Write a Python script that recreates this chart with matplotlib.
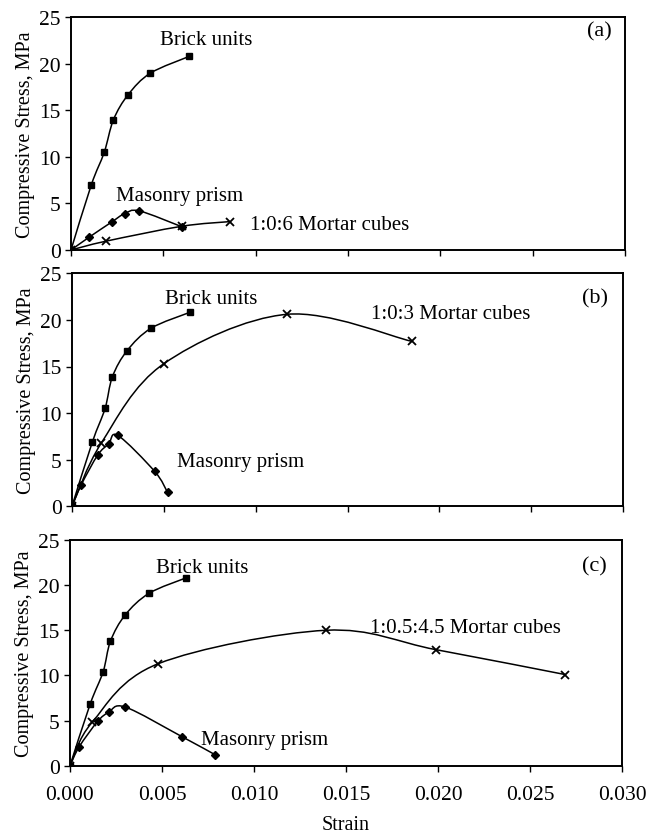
import numpy as np
import matplotlib
matplotlib.use("Agg")
import matplotlib.pyplot as plt
from matplotlib.path import Path
from matplotlib.patches import PathPatch
from matplotlib.ticker import FormatStrFormatter

plt.rcParams['font.family'] = ['Liberation Serif', 'DejaVu Serif']

# panel (a) - 1:0:6 mortar
brick_a_strain = [0, 0.0011, 0.0018, 0.0023, 0.0031, 0.0043, 0.0064]
brick_a_stress = [0, 7.0, 10.5, 14.0, 16.7, 19.0, 20.8]
prism_a_strain = [0, 0.0010, 0.0022, 0.0029, 0.0037, 0.0060]
prism_a_stress = [0, 1.4, 3.0, 3.9, 4.2, 2.5]
mortar_a_strain = [0, 0.0019, 0.0060, 0.0086]
mortar_a_stress = [0, 0.95, 2.55, 3.05]

# panel (b) - 1:0:3 mortar
brick_b_strain = [0, 0.0011, 0.0018, 0.0022, 0.0030, 0.0043, 0.0064]
brick_b_stress = [0, 6.85, 10.5, 13.9, 16.7, 19.1, 20.8]
prism_b_strain = [0, 0.0005, 0.0014, 0.0020, 0.0025, 0.0045, 0.0052]
prism_b_stress = [0, 2.3, 5.5, 6.7, 7.6, 3.75, 1.5]
mortar_b_strain = [0, 0.0016, 0.0050, 0.0117, 0.0185]
mortar_b_stress = [0, 6.8, 15.3, 20.6, 17.7]

# panel (c) - 1:0.5:4.5 mortar
brick_c_strain = [0, 0.0011, 0.0018, 0.0022, 0.0030, 0.0043, 0.0063]
brick_c_stress = [0, 6.85, 10.4, 13.8, 16.7, 19.1, 20.8]
prism_c_strain = [0, 0.0005, 0.0015, 0.0021, 0.0030, 0.0061, 0.0079]
prism_c_stress = [0, 2.1, 4.9, 5.9, 6.5, 3.2, 1.2]
mortar_c_strain = [0, 0.0012, 0.0048, 0.0139, 0.0199, 0.0269]
mortar_c_stress = [0, 4.8, 11.3, 15.0, 12.85, 10.1]

mortar_names = ['1:0:6 Mortar cubes', '1:0:3 Mortar cubes', '1:0.5:4.5 Mortar cubes']
panel_tags = ['(a)', '(b)', '(c)']


def smooth_path(xs, ys):
    # excel style smoothed line: cubic bezier pieces through every point
    pts = np.column_stack([xs, ys]).astype(float)
    n = len(pts)
    verts = [pts[0]]
    codes = [Path.MOVETO]
    for i in range(n - 1):
        p0 = pts[i - 1] if i > 0 else pts[i]
        p1 = pts[i]
        p2 = pts[i + 1]
        p3 = pts[i + 2] if i + 2 < n else pts[i + 1]
        verts += [p1 + (p2 - p0) / 6, p2 - (p3 - p1) / 6, p2]
        codes += [Path.CURVE4] * 3
    return Path(verts, codes)


def draw_series(ax, xs, ys, marker, ms):
    ax.add_patch(PathPatch(smooth_path(xs, ys), fill=False, lw=1.1, edgecolor='black'))
    if marker == 'x':
        ax.plot(xs, ys, ls='none', marker='x', ms=ms, mew=1.3, color='black')
    else:
        ax.plot(xs, ys, ls='none', marker=marker, ms=ms, color='black')


fig = plt.figure(figsize=(6.47, 8.37), dpi=100)
boxes = [
    [71 / 647, 1 - 251 / 837, 554 / 647, 232.7 / 837],
    [72 / 647, 1 - 507.3 / 837, 551 / 647, 233 / 837],
    [70 / 647, 1 - 766.7 / 837, 552 / 647, 225.7 / 837],
]
series = [
    (brick_a_strain, brick_a_stress, prism_a_strain, prism_a_stress, mortar_a_strain, mortar_a_stress),
    (brick_b_strain, brick_b_stress, prism_b_strain, prism_b_stress, mortar_b_strain, mortar_b_stress),
    (brick_c_strain, brick_c_stress, prism_c_strain, prism_c_stress, mortar_c_strain, mortar_c_stress),
]
# label spots (x, y, ha) for brick, prism, mortar, tag
spots = [
    [(0.0073, 22.6, 'center'), (0.0059, 5.9, 'center'), (0.0097, 2.7, 'left'), (0.0286, 23.5, 'center')],
    [(0.0076, 22.3, 'center'), (0.0092, 4.85, 'center'), (0.0206, 20.7, 'center'), (0.0285, 22.4, 'center')],
    [(0.0072, 21.9, 'center'), (0.0071, 2.9, 'left'), (0.0215, 15.3, 'center'), (0.0285, 22.1, 'center')],
]

for k in range(3):
    ax = fig.add_axes(boxes[k])
    bx, by, px, py, mx, my = series[k]
    draw_series(ax, bx, by, 's', 5)
    draw_series(ax, px, py, 'D', 4.5)
    draw_series(ax, mx, my, 'x', 6)

    ax.set_xlim(0, 0.030)
    ax.set_ylim(0, 25)
    ax.set_xticks(np.arange(0, 0.0301, 0.005))
    ax.set_yticks(range(0, 26, 5))
    ax.tick_params(direction='out', length=4, width=1, labelsize=15.5)
    for sp in ax.spines.values():
        sp.set_linewidth(1.4)
    if k < 2:
        ax.set_xticklabels([])
    else:
        ax.xaxis.set_major_formatter(FormatStrFormatter('%.3f'))
        ax.tick_params(axis='x', pad=10)
        ax.set_xlabel('Strain', fontsize=14.5, labelpad=8)
    ax.set_ylabel('Compressive Stress, MPa', fontsize=14.5, labelpad=3)

    names = ['Brick units', 'Masonry prism', mortar_names[k], panel_tags[k]]
    for name, (tx, ty, ha) in zip(names, spots[k]):
        ax.text(tx, ty, name, ha=ha, va='center', fontsize=15 if name != panel_tags[k] else 16)

fig.savefig('out.png', dpi=100)
